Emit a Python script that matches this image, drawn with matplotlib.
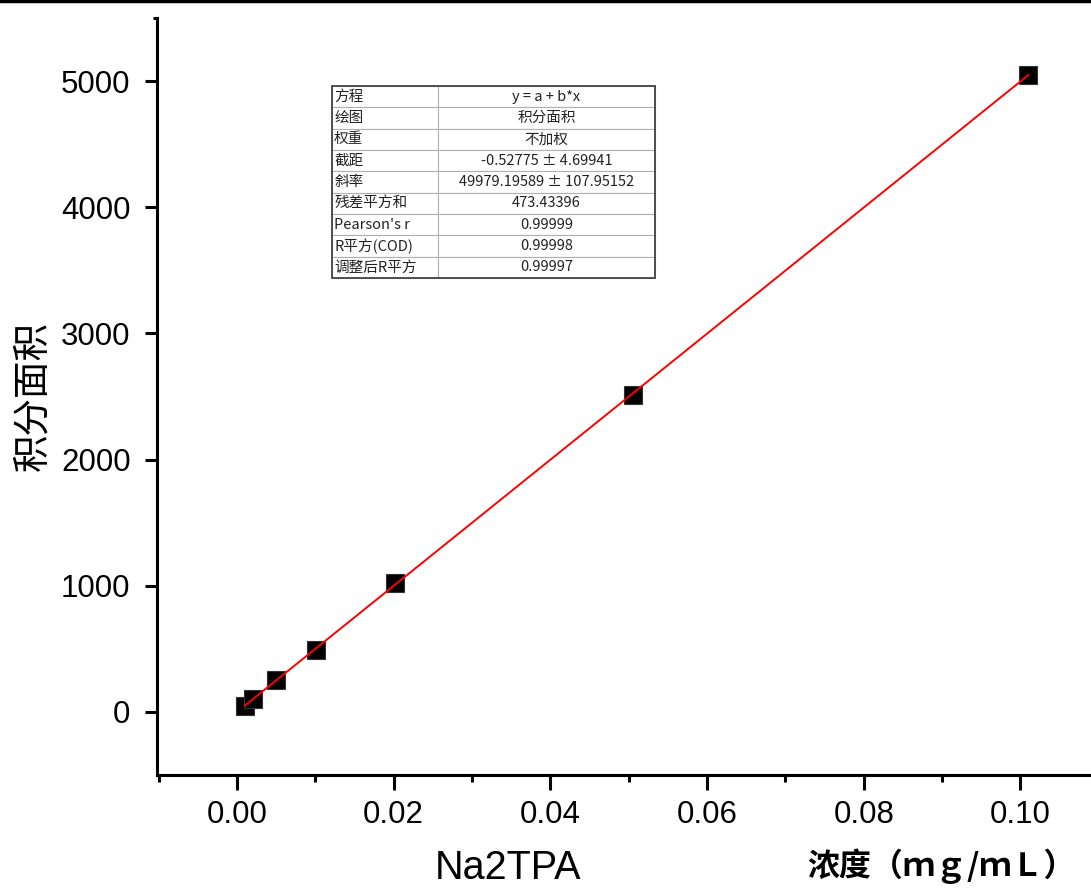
import numpy as np
import matplotlib.pyplot as plt
from matplotlib.lines import Line2D
from matplotlib.patches import Rectangle

# data
conc = [0.00101, 0.00202, 0.00505, 0.0101, 0.0202, 0.0505, 0.101]
area = [48, 103, 254, 491, 1022, 2512, 5047]

# linear fit results shown in the table
intercept = -0.52775
slope = 49979.19589

table_rows = [
    ['方程', 'y = a + b*x'],
    ['绘图', '积分面积'],
    ['权重', '不加权'],
    ['截距', '-0.52775 ± 4.69941'],
    ['斜率', '49979.19589 ± 107.95152'],
    ['残差平方和', '473.43396'],
    ["Pearson's r", '0.99999'],
    ['R平方(COD)', '0.99998'],
    ['调整后R平方', '0.99997'],
]

plt.rcParams['font.family'] = ['Liberation Sans', 'Noto Sans CJK SC', 'DejaVu Sans']
cjk = ['Noto Sans CJK SC', 'DejaVu Sans']

fig = plt.figure(figsize=(10.91, 8.91), dpi=100)
ax = fig.add_axes([0.1439, 0.1302, 0.8561, 0.8496])

ax.plot(conc, area, 's', color='black', markersize=13.5, markeredgecolor='#333333',
        markeredgewidth=0.8, zorder=3)
xfit = np.array([min(conc), max(conc)])
ax.plot(xfit, intercept + slope * xfit, color='red', linewidth=1.4, zorder=4)

ax.set_xlim(-0.0102, 0.109)
ax.set_ylim(-500, 5500)
ax.set_xticks([0.00, 0.02, 0.04, 0.06, 0.08, 0.10])
ax.set_xticks(np.arange(-0.01, 0.11, 0.02), minor=True)
ax.set_yticks([0, 1000, 2000, 3000, 4000, 5000])
ax.set_yticks([5500], minor=True)
ax.xaxis.set_major_formatter(plt.FormatStrFormatter('%.2f'))

for s in ['top', 'right']:
    ax.spines[s].set_visible(False)
for s in ['left', 'bottom']:
    ax.spines[s].set_linewidth(2.2)

ax.tick_params(axis='x', which='major', length=11, width=2.2, labelsize=22.5, pad=7)
ax.tick_params(axis='x', which='minor', length=5, width=2.2)
ax.tick_params(axis='y', which='major', length=9, width=2.2, labelsize=22.5, pad=10)
ax.tick_params(axis='y', which='minor', length=3, width=2.2)

ax.set_ylabel('积分面积', family=cjk, fontsize=27, labelpad=6)

# x labels
fig.text(0.466, 0.005, 'Na2TPA', fontsize=28.5, ha='center', va='bottom')
fig.text(0.863, 0.008, '浓度（ｍｇ/ｍＬ）', family=cjk, fontsize=23, fontweight='bold',
         ha='center', va='bottom')

# top border line
fig.add_artist(Line2D([0, 1], [0.9985, 0.9985], transform=fig.transFigure,
                      color='black', linewidth=2.5))

# fit result table
tab = ax.table(cellText=table_rows, colWidths=[0.328, 0.672],
               bbox=[0.1874, 0.6565, 0.3458, 0.2537], zorder=5)
tab.auto_set_font_size(False)
for (r, c), cell in tab.get_celld().items():
    cell.set_edgecolor('#b0b0b0')
    cell.set_linewidth(0.8)
    cell.set_text_props(fontsize=10.5, family=cjk, color='#222222')
    cell.get_text().set_ha('left' if c == 0 else 'center')
    cell.PAD = 0.02
# outer frame of the table
ax.add_patch(Rectangle((0.1874, 0.6565), 0.3458, 0.2537, transform=ax.transAxes,
                       fill=False, edgecolor='#444444', linewidth=1.3, zorder=6))

fig.savefig('out.png', dpi=100)
